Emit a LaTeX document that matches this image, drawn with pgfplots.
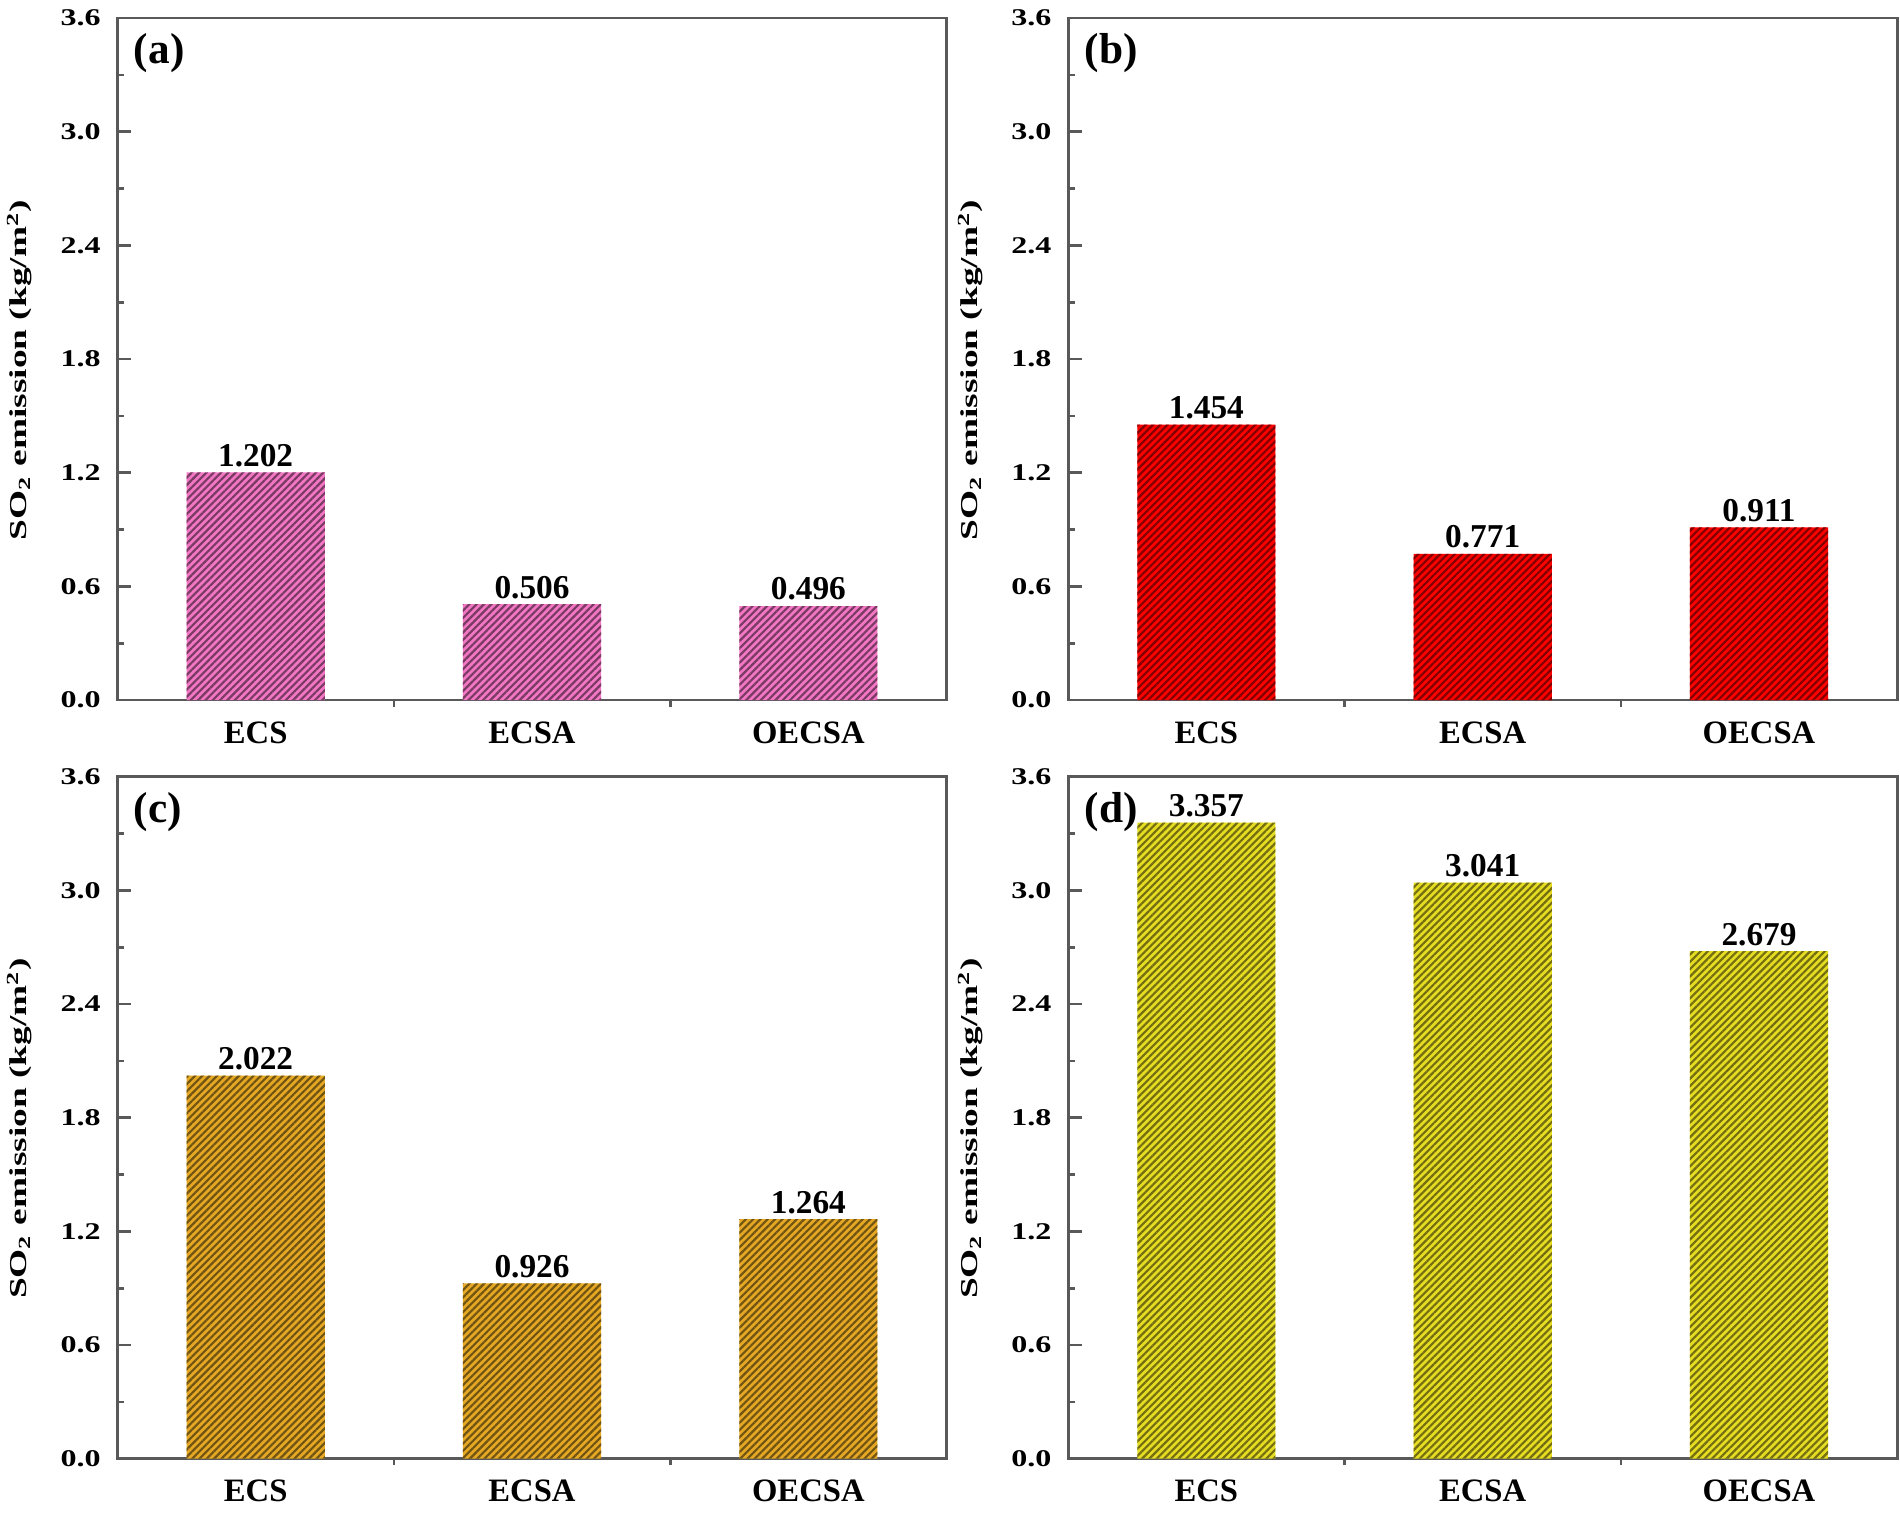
\documentclass[border=0pt]{standalone}
\usepackage{fontspec}
\setmainfont{Liberation Serif}
\usepackage{graphicx}
\usepackage{pgfplots}
\pgfplotsset{compat=1.18}
\usetikzlibrary{patterns.meta}

\definecolor{pinkc}{RGB}{242,118,196}
\definecolor{redc}{RGB}{255,0,0}
\definecolor{orangec}{RGB}{228,168,36}
\definecolor{yellowc}{RGB}{230,220,34}

\pgfplotsset{
  panel/.style={
    width=248.7pt, height=204.6pt, scale only axis,
    xmin=0.5, xmax=3.5, ymin=0, ymax=3.6,
    xtick={1,2,3}, xticklabels={ECS,ECSA,OECSA},
    minor xtick={1.5,2.5},
    ytick={0,0.6,1.2,1.8,2.4,3.0,3.6},
    minor ytick={0.3,0.9,1.5,2.1,2.7,3.3},
    tick pos=left, tick align=inside,
    major tick length=4pt, minor tick length=2pt,
    every major x tick/.append style={draw=none},
    axis line style={black!65, line width=0.8pt},
    every tick/.append style={black!65, line width=0.8pt},
    /pgf/number format/assume math mode=true,
    yticklabel={\scalebox{1}[0.75]{\pgfmathprintnumber[fixed,zerofill,precision=1]{\tick}}},
    y tick label style={font=\fontsize{9.6}{10}\selectfont\bfseries, xshift=-1.5pt},
    x tick label style={font=\fontsize{9.8}{11}\selectfont\bfseries, yshift=1.1pt},
    ylabel={\scalebox{1}[0.65]{SO\textsubscript{2} emission (kg/m\textsuperscript{2})}},
    ylabel style={at={(axis description cs:-0.118,0.484)}, anchor=center,
      font=\fontsize{11.2}{12}\selectfont\bfseries},
    ybar, bar width=0.5,
    nodes near coords={\pgfmathprintnumber[fixed,zerofill,precision=3]{\pgfplotspointmeta}},
    every node near coord/.append style={font=\fontsize{10}{11}\selectfont\bfseries,
      text=black, inner sep=1.5pt},
  },
  hatch/.style={draw=none, fill=#1,
    postaction={pattern={Lines[angle=45,distance=1.55pt,line width=0.65pt]},
      pattern color=#1!50!black}},
}

\newcommand{\panellabel}[1]{%
  \node[anchor=north west, inner sep=0pt, font=\fontsize{13}{14}\selectfont\bfseries]
    at (rel axis cs:0.019,0.978) {#1};}

\begin{document}
\begin{tikzpicture}
  \begin{axis}[panel, at={(0pt,0pt)}, anchor=north west]
    \addplot[hatch=pinkc] coordinates {(1,1.202) (2,0.506) (3,0.496)};
    \panellabel{(a)}
  \end{axis}
  \begin{axis}[panel, at={(285.2pt,0pt)}, anchor=north west]
    \addplot[hatch=redc] coordinates {(1,1.454) (2,0.771) (3,0.911)};
    \panellabel{(b)}
  \end{axis}
  \begin{axis}[panel, at={(0pt,-227.6pt)}, anchor=north west]
    \addplot[hatch=orangec] coordinates {(1,2.022) (2,0.926) (3,1.264)};
    \panellabel{(c)}
  \end{axis}
  \begin{axis}[panel, at={(285.2pt,-227.6pt)}, anchor=north west]
    \addplot[hatch=yellowc] coordinates {(1,3.357) (2,3.041) (3,2.679)};
    \panellabel{(d)}
  \end{axis}
  \pgfresetboundingbox
  \path[use as bounding box] (-35.25pt,5.4pt) rectangle (534.75pt,-448.2pt);
\end{tikzpicture}
\end{document}
